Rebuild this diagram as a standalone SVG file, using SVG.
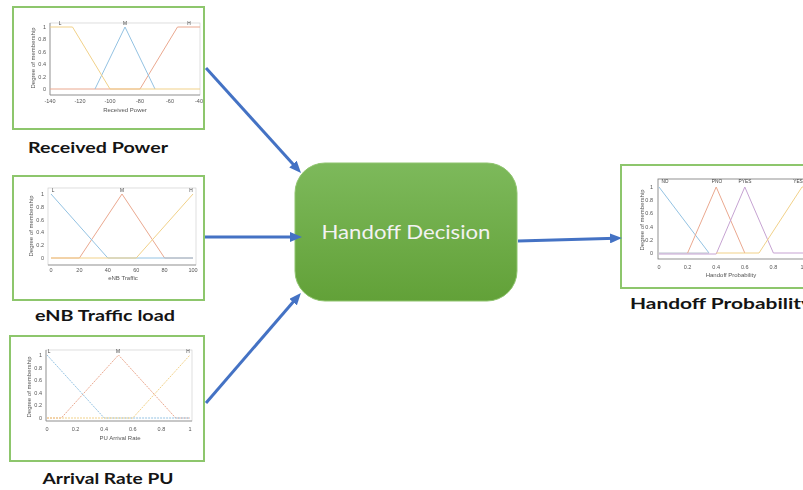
<svg xmlns="http://www.w3.org/2000/svg" width="803" height="490" viewBox="0 0 803 490">
  <defs>
    <style>
      .frame{fill:#ffffff;stroke:#8dc66c;stroke-width:2}
      .axbox{fill:none;stroke:#c8c8c8;stroke-width:0.6}
      .axis{fill:none;stroke:#8a8a8a;stroke-width:0.8}
      .tk{font-family:"Liberation Sans",Arial,sans-serif;font-size:5.5px;fill:#555555}
      .tky{font-family:"Liberation Sans",Arial,sans-serif;font-size:5.5px;fill:#555555;text-anchor:end}
      .tkx{font-family:"Liberation Sans",Arial,sans-serif;font-size:5.5px;fill:#555555;text-anchor:middle}
      .axlbl{font-family:"Liberation Sans",Arial,sans-serif;font-size:6px;fill:#555555;text-anchor:middle}
      .mfn{font-family:"Liberation Sans",Arial,sans-serif;font-size:4.8px;fill:#444444;text-anchor:middle}
      .mf{fill:none;stroke-width:1}
      .blue{stroke:#93c2e2}
      .red{stroke:#eaa88f}
      .yel{stroke:#f1d189}
      .pur{stroke:#c6a3d2}
      .dash{stroke-dasharray:2 1}
      .soft{filter:url(#soft)}
      .lbl{font-family:Lato,"Open Sans","Liberation Sans",sans-serif;font-weight:bold;font-size:16px;fill:#141414;text-anchor:middle}
      .conn{fill:none;stroke:#4472c4;stroke-width:3;marker-end:url(#ah)}
      .box{fill:url(#green);stroke:#8fc46e;stroke-width:1}
      .boxtxt{font-family:Lato,"Open Sans","Liberation Sans",sans-serif;font-size:20px;fill:#f2f2f2;text-anchor:middle}
    </style>
    <linearGradient id="green" x1="0" y1="0" x2="0" y2="1">
      <stop offset="0" stop-color="#7db95b"/>
      <stop offset="1" stop-color="#62a138"/>
    </linearGradient>
    <marker id="ah" markerUnits="userSpaceOnUse" markerWidth="12" markerHeight="10" viewBox="0 0 12 10" refX="6" refY="5" orient="auto">
      <path d="M0,0 L12,5 L0,10 z" fill="#4472c4"/>
    </marker>
    <filter id="soft" x="-5%" y="-5%" width="110%" height="110%">
      <feGaussianBlur stdDeviation="0.3"/>
    </filter>
  </defs>

  <!-- Input: received power membership functions -->
  <g id="received-power">
    <rect class="frame" x="13" y="7" width="191" height="122"/>
    <g class="soft">
      <rect class="axbox" x="50" y="23" width="150" height="72"/>
      <path class="axis" d="M50,23 V95 H200"/>
      <path class="mf red" d="M50,89 H140 L177.5,27 H200"/>
      <path class="mf blue" d="M95,89 L125,27 L155,89"/>
      <path class="mf yel" d="M50,27 H72.5 L110,89 H200"/>
      <text class="mfn" x="60" y="25">L</text>
      <text class="mfn" x="125" y="25">M</text>
      <text class="mfn" x="189" y="25">H</text>
      <text class="tky" x="46" y="29">1</text>
      <text class="tky" x="46" y="41.4">0.8</text>
      <text class="tky" x="46" y="53.8">0.6</text>
      <text class="tky" x="46" y="66.2">0.4</text>
      <text class="tky" x="46" y="78.6">0.2</text>
      <text class="tky" x="46" y="91">0</text>
      <text class="tkx" x="50" y="103">-140</text>
      <text class="tkx" x="80" y="103">-120</text>
      <text class="tkx" x="110" y="103">-100</text>
      <text class="tkx" x="140" y="103">-80</text>
      <text class="tkx" x="170" y="103">-60</text>
      <text class="tkx" x="199" y="103">-40</text>
      <text class="axlbl" x="125" y="112">Received Power</text>
      <text class="axlbl" transform="translate(35,58) rotate(-90)">Degree of membership</text>
    </g>
    <text class="lbl" x="98" y="153" textLength="140" lengthAdjust="spacingAndGlyphs">Received Power</text>
  </g>

  <!-- Input: eNB traffic load membership functions -->
  <g id="enb-traffic-load">
    <rect class="frame" x="13" y="176" width="191" height="124"/>
    <g class="soft">
      <rect class="axbox" x="48" y="188" width="148" height="77"/>
      <path class="axis" d="M48,265 H196"/>
      <path class="mf red" d="M51,258 H79.4 L122,194 L164.6,258 H193"/>
      <path class="mf blue" d="M51,194 L107.8,258 H193"/>
      <path class="mf yel" d="M51,258 H136.2 L193,194"/>
      <text class="mfn" x="53" y="192">L</text>
      <text class="mfn" x="122" y="192">M</text>
      <text class="mfn" x="191" y="192">H</text>
      <text class="tky" x="44" y="196">1</text>
      <text class="tky" x="44" y="208.8">0.8</text>
      <text class="tky" x="44" y="221.6">0.6</text>
      <text class="tky" x="44" y="234.4">0.4</text>
      <text class="tky" x="44" y="247.2">0.2</text>
      <text class="tky" x="44" y="260">0</text>
      <text class="tkx" x="51" y="272">0</text>
      <text class="tkx" x="79.4" y="272">20</text>
      <text class="tkx" x="107.8" y="272">40</text>
      <text class="tkx" x="136.2" y="272">60</text>
      <text class="tkx" x="164.6" y="272">80</text>
      <text class="tkx" x="193" y="272">100</text>
      <text class="axlbl" x="123" y="280">eNB Traffic</text>
      <text class="axlbl" transform="translate(33,226) rotate(-90)">Degree of membership</text>
    </g>
    <text class="lbl" x="105" y="321" textLength="140" lengthAdjust="spacingAndGlyphs">eNB Traffic load</text>
  </g>

  <!-- Input: PU arrival rate membership functions -->
  <g id="arrival-rate-pu">
    <rect class="frame" x="10" y="336" width="194" height="125"/>
    <g class="soft">
      <rect class="axbox" x="46" y="350" width="146" height="71"/>
      <path class="axis" d="M46,350 V421 H192"/>
      <path class="mf red dash" d="M47,418 H61.3 L118.5,355 L175.7,418 H190"/>
      <path class="mf blue dash" d="M47,355 L104.2,418 H190"/>
      <path class="mf yel dash" d="M47,418 H132.8 L190,355"/>
      <text class="mfn" x="49" y="353">L</text>
      <text class="mfn" x="118" y="353">M</text>
      <text class="mfn" x="188" y="353">H</text>
      <text class="tky" x="42" y="357">1</text>
      <text class="tky" x="42" y="369.6">0.8</text>
      <text class="tky" x="42" y="382.2">0.6</text>
      <text class="tky" x="42" y="394.8">0.4</text>
      <text class="tky" x="42" y="407.4">0.2</text>
      <text class="tky" x="42" y="420">0</text>
      <text class="tkx" x="47" y="431">0</text>
      <text class="tkx" x="75.6" y="431">0.2</text>
      <text class="tkx" x="104.2" y="431">0.4</text>
      <text class="tkx" x="132.8" y="431">0.6</text>
      <text class="tkx" x="161.4" y="431">0.8</text>
      <text class="tkx" x="190" y="431">1</text>
      <text class="axlbl" x="120" y="440">PU Arrival Rate</text>
      <text class="axlbl" transform="translate(31,387) rotate(-90)">Degree of membership</text>
    </g>
    <text class="lbl" x="108" y="484" textLength="131" lengthAdjust="spacingAndGlyphs">Arrival Rate PU</text>
  </g>

  <!-- Fuzzy inference block -->
  <g id="handoff-decision">
    <rect class="box" x="295" y="163" width="222" height="138" rx="30" ry="30"/>
    <text class="boxtxt" x="406" y="239" textLength="169" lengthAdjust="spacingAndGlyphs">Handoff Decision</text>
  </g>

  <!-- Output: handoff probability membership functions -->
  <g id="handoff-probability">
    <rect class="frame" x="621" y="165" width="200" height="123"/>
    <g class="soft">
      <rect fill="none" stroke="#777777" stroke-width="0.8" x="658" y="179" width="160" height="80"/>
      <path class="mf blue" d="M659,187 L709,253"/>
      <path class="mf" stroke="#b9c2cc" d="M659,253 H709"/>
      <path class="mf red" d="M687.6,253 L716.2,187 L744.8,253"/>
      <path class="mf pur" d="M659,254 H716.2 L744.8,187 L773.4,253 H810"/>
      <path class="mf yel" d="M716.2,253 H759 L802,187 H810"/>
      <text class="mfn" x="665" y="183">NO</text>
      <text class="mfn" x="717" y="183">PNO</text>
      <text class="mfn" x="745" y="183">PYES</text>
      <text class="mfn" x="798" y="183">YES</text>
      <text class="tky" x="653" y="189">1</text>
      <text class="tky" x="653" y="202.2">0.8</text>
      <text class="tky" x="653" y="215.4">0.6</text>
      <text class="tky" x="653" y="228.6">0.4</text>
      <text class="tky" x="653" y="241.8">0.2</text>
      <text class="tky" x="653" y="255">0</text>
      <text class="tkx" x="659" y="269">0</text>
      <text class="tkx" x="687.6" y="269">0.2</text>
      <text class="tkx" x="716.2" y="269">0.4</text>
      <text class="tkx" x="744.8" y="269">0.6</text>
      <text class="tkx" x="773.4" y="269">0.8</text>
      <text class="tkx" x="802" y="269">1</text>
      <text class="axlbl" x="731" y="277">Handoff Probability</text>
      <text class="axlbl" transform="translate(644,220) rotate(-90)">Degree of membership</text>
    </g>
    <text class="lbl" x="721" y="309" textLength="182" lengthAdjust="spacingAndGlyphs">Handoff Probability</text>
  </g>

  <!-- Connectors -->
  <g id="connectors">
    <path class="conn" d="M206,68 L297,168.5"/>
    <path class="conn" d="M205,237 L296,237"/>
    <path class="conn" d="M206,403 L297,297.5"/>
    <path class="conn" d="M518,241 L616,238.2"/>
  </g>
</svg>
